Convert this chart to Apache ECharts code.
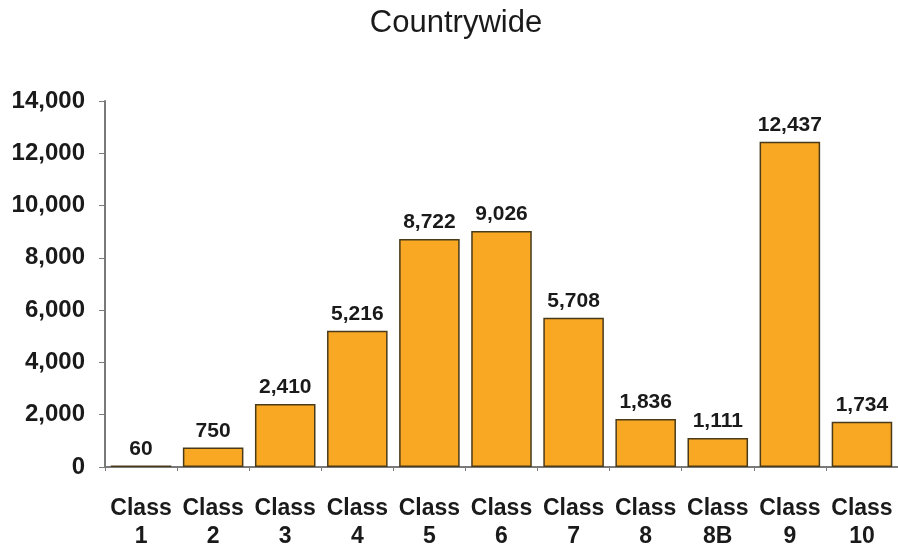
<!DOCTYPE html>
<html>
<head>
<meta charset="utf-8">
<script src="https://cdn.jsdelivr.net/npm/echarts@6/dist/echarts.min.js"></script>
<style>
html,body{margin:0;padding:0;background:#fff;}
#chart{width:898px;height:551px;}
</style>
</head>
<body>
<div id="chart"></div>
<script>
const titleText = 'Countrywide';
const categories = ['Class\n1','Class\n2','Class\n3','Class\n4','Class\n5','Class\n6','Class\n7','Class\n8','Class\n8B','Class\n9','Class\n10'];
const values = [60, 750, 2410, 5216, 8722, 9026, 5708, 1836, 1111, 12437, 1734];
const yTicks = [0, 2000, 4000, 6000, 8000, 10000, 12000, 14000];

const FONT = '"Liberation Sans", Arial, sans-serif';
const fmt = v => v.toLocaleString('en-US');

const chart = echarts.init(document.getElementById('chart'), null, {renderer:'canvas'});
chart.setOption({
  animation: false,
  backgroundColor: '#ffffff',
  title: {
    text: titleText,
    left: 451,
    textAlign: 'center',
    top: 3,
    textStyle: {fontFamily: FONT, fontSize: 31, fontWeight: 'normal', color: '#1a1a1a'}
  },
  grid: {left: 105, top: 101, bottom: 79, width: 798.6, containLabel: false},
  xAxis: {
    type: 'category',
    data: categories,
    axisLine: {lineStyle: {color: '#7a7a7a', width: 2}},
    axisTick: {show: true, length: 4, inside: false, lineStyle: {color: '#7a7a7a'}},
    axisLabel: {
      fontFamily: FONT, fontSize: 23, fontWeight: 'bold', color: '#1a1a1a',
      lineHeight: 28, margin: 28, interval: 0
    }
  },
  yAxis: {
    type: 'value',
    min: yTicks[0],
    max: yTicks[yTicks.length - 1],
    interval: yTicks[1] - yTicks[0],
    splitLine: {show: false},
    axisLine: {show: true, lineStyle: {color: '#7a7a7a', width: 2}},
    axisTick: {show: true, length: 6, lineStyle: {color: '#7a7a7a'}},
    axisLabel: {
      fontFamily: FONT, fontSize: 24, fontWeight: 'bold', color: '#1a1a1a',
      margin: 20, formatter: v => fmt(v)
    }
  },
  series: [{
    type: 'bar',
    data: values,
    barCategoryGap: '16%',
    itemStyle: {color: '#F8A823', borderColor: '#4a3a1a', borderWidth: 1.5},
    label: {
      show: true, position: 'top', distance: 6,
      fontFamily: FONT, fontSize: 21, fontWeight: 'bold', color: '#1a1a1a',
      formatter: p => fmt(p.value)
    }
  }]
});
</script>
</body>
</html>
